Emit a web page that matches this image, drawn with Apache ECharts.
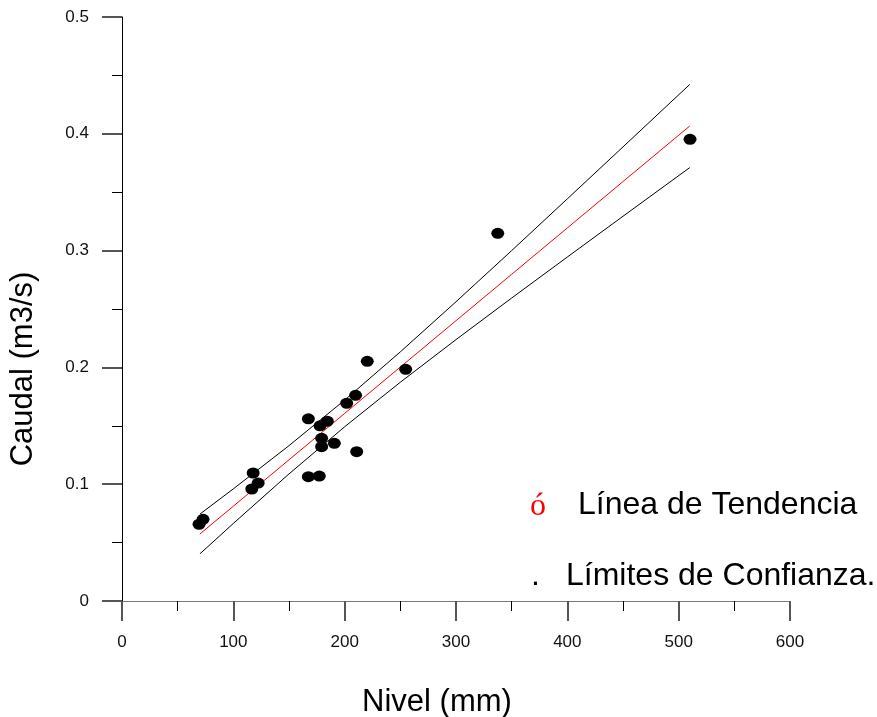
<!DOCTYPE html>
<html>
<head>
<meta charset="utf-8">
<script src="https://cdn.jsdelivr.net/npm/echarts@6/dist/echarts.min.js"></script>
<style>html,body{margin:0;padding:0;background:#fff}#c{width:877px;height:717px}</style>
</head>
<body>
<div id="c"></div>
<script>
// Observed points
const nivel  = [69.2, 72.8, 117.8, 122.3, 116.6, 167.4, 177.2, 167.4, 177.9, 184.4, 179.3, 179.3, 190.7, 210.8, 201.8, 209.8, 220.3, 254.8, 337.5, 510.2];
const caudal = [0.0657, 0.0699, 0.1096, 0.101, 0.0959, 0.1064, 0.107, 0.156, 0.150, 0.1539, 0.1393, 0.1321, 0.135, 0.1278, 0.1693, 0.1761, 0.2052, 0.1984, 0.3148, 0.3953];
// Trend line and confidence limits
const lineX    = [70, 100, 150, 200, 250, 300, 350, 400, 450, 510];
const tendencia = [0.0574, 0.0812, 0.1209, 0.1606, 0.2003, 0.2400, 0.2797, 0.3194, 0.3591, 0.4067];
const limSup    = [0.0744, 0.0960, 0.1330, 0.1720, 0.2133, 0.2562, 0.3000, 0.3443, 0.3888, 0.4423];
const limInf    = [0.0404, 0.0664, 0.1088, 0.1492, 0.1873, 0.2238, 0.2594, 0.2945, 0.3294, 0.3711];
// Texts
const xTitle = 'Nivel (mm)';
const yTitle = 'Caudal (m3/s)';
const legTrend = 'Línea de Tendencia';
const legConf = 'Límites de Confianza.';

const FONT = '"Liberation Sans", Arial, sans-serif';
const zip = (a, b) => a.map((v, i) => [v, b[i]]);

const axisOpt = (max, interval, lineColor) => ({
  type: 'value', min: 0, max: max, interval: interval,
  axisLine: {show: true, onZero: false, lineStyle: {color: lineColor, width: 1}},
  axisTick: {show: true, inside: false, length: 20, lineStyle: {color: '#555555', width: 2}},
  minorTick: {show: true, splitNumber: 2, length: 10, lineStyle: {color: '#000', width: 1}},
  axisLabel: {show: true, margin: 33, fontFamily: FONT, fontSize: 17, color: '#111'},
  splitLine: {show: false}
});

const chart = echarts.init(document.getElementById('c'), null, {renderer: 'canvas'});
chart.setOption({
  animation: false,
  backgroundColor: '#ffffff',
  grid: {left: 122, right: 87, top: 17, bottom: 116, containLabel: false},
  xAxis: axisOpt(600, 100, '#7a7a7a'),
  yAxis: axisOpt(0.5, 0.1, '#000'),
  series: [
    {type: 'line', data: zip(lineX, limSup), showSymbol: false, lineStyle: {color: '#000', width: 1}, z: 2},
    {type: 'line', data: zip(lineX, limInf), showSymbol: false, lineStyle: {color: '#000', width: 1}, z: 2},
    {type: 'line', data: zip(lineX, tendencia), showSymbol: false, lineStyle: {color: '#ff0000', width: 1}, z: 3},
    {type: 'scatter', data: zip(nivel, caudal), symbol: 'circle', symbolSize: [13, 11], itemStyle: {color: '#000', opacity: 1}, z: 4}
  ],
  graphic: [
    {type: 'text', x: 437, y: 702, style: {text: xTitle, font: '31px ' + FONT, fill: '#000', align: 'center', verticalAlign: 'middle'}},
    {type: 'text', x: 23, y: 369, rotation: Math.PI / 2, style: {text: yTitle, font: '31px ' + FONT, fill: '#000', align: 'center', verticalAlign: 'middle'}},
    {type: 'text', x: 538, y: 507, style: {text: 'ó', font: '32px "Liberation Serif", "Times New Roman", serif', fill: '#ff0000', align: 'center', verticalAlign: 'middle'}},
    {type: 'text', x: 578, y: 505, style: {text: legTrend, font: '32px ' + FONT, fill: '#000', align: 'left', verticalAlign: 'middle'}},
    {type: 'text', x: 531, y: 576, style: {text: '.', font: '32px ' + FONT, fill: '#000', align: 'left', verticalAlign: 'middle'}},
    {type: 'text', x: 566, y: 576, style: {text: legConf, font: '32px ' + FONT, fill: '#000', align: 'left', verticalAlign: 'middle'}}
  ]
});
</script>
</body>
</html>
